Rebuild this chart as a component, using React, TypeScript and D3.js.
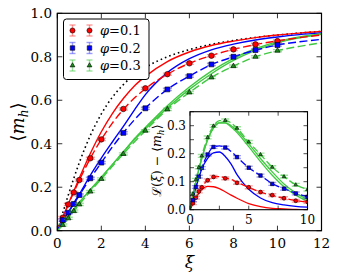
import * as d3 from 'd3'

// curve sample points (xi)
const xiGrid = [0, 0.25, 0.5, 0.75, 1, 1.5, 2, 2.5, 3, 3.5, 4, 5, 6, 7, 8, 9, 10, 11, 12]
const langevin = [0, 0.083, 0.164, 0.241, 0.313, 0.438, 0.537, 0.614, 0.672, 0.718, 0.751, 0.8, 0.833, 0.857, 0.875, 0.889, 0.9, 0.909, 0.917]
const redSolid = [0, 0.062, 0.123, 0.183, 0.242, 0.355, 0.455, 0.539, 0.608, 0.666, 0.71, 0.778, 0.822, 0.852, 0.872, 0.888, 0.9, 0.909, 0.916]
const blueSolid = [0, 0.043, 0.084, 0.128, 0.168, 0.255, 0.334, 0.408, 0.48, 0.555, 0.626, 0.727, 0.791, 0.832, 0.858, 0.877, 0.891, 0.902, 0.91]
const greenSolidA = [0, 0.031, 0.064, 0.098, 0.13, 0.188, 0.245, 0.304, 0.362, 0.418, 0.468, 0.565, 0.65, 0.722, 0.783, 0.829, 0.864, 0.887, 0.903]
const greenSolidB = [0, 0.031, 0.064, 0.098, 0.13, 0.188, 0.245, 0.304, 0.362, 0.423, 0.475, 0.575, 0.661, 0.734, 0.793, 0.837, 0.87, 0.891, 0.906]
const redDashed = [0, 0.06, 0.121, 0.177, 0.232, 0.333, 0.42, 0.495, 0.558, 0.61, 0.653, 0.72, 0.77, 0.806, 0.834, 0.856, 0.873, 0.888, 0.9]
const blueDashed = [0, 0.048, 0.084, 0.123, 0.163, 0.241, 0.313, 0.385, 0.45, 0.51, 0.563, 0.65, 0.711, 0.764, 0.8, 0.83, 0.854, 0.869, 0.88]
const greenDashed = [0, 0.026, 0.057, 0.09, 0.121, 0.18, 0.238, 0.296, 0.353, 0.408, 0.46, 0.558, 0.636, 0.705, 0.757, 0.8, 0.828, 0.848, 0.864]

// inset: L(xi) - <m_h>
const insetGrid = [0, 0.25, 0.5, 0.75, 1, 1.5, 2, 2.5, 3, 3.5, 4, 5, 6, 7, 8, 9, 10]
const insetRedSolid = [0, 0.021, 0.041, 0.058, 0.071, 0.083, 0.082, 0.075, 0.064, 0.052, 0.041, 0.022, 0.011, 0.005, 0.003, 0.001, 0]
const insetBlueSolid = [0, 0.04, 0.078, 0.113, 0.145, 0.183, 0.203, 0.206, 0.19, 0.163, 0.125, 0.073, 0.042, 0.025, 0.017, 0.012, 0.009]
const insetGreenSolidA = [0, 0.052, 0.1, 0.143, 0.183, 0.25, 0.292, 0.31, 0.31, 0.3, 0.283, 0.235, 0.183, 0.135, 0.092, 0.06, 0.036]
const insetGreenSolidB = [0, 0.052, 0.1, 0.143, 0.183, 0.25, 0.292, 0.31, 0.31, 0.295, 0.276, 0.225, 0.172, 0.123, 0.082, 0.052, 0.03]
const insetRedDashed = [0, 0.023, 0.043, 0.064, 0.081, 0.105, 0.117, 0.118, 0.114, 0.108, 0.098, 0.08, 0.063, 0.051, 0.041, 0.033, 0.027]
const insetBlueDashed = [0, 0.035, 0.08, 0.118, 0.15, 0.197, 0.224, 0.228, 0.222, 0.208, 0.188, 0.15, 0.122, 0.093, 0.075, 0.059, 0.046]
const insetGreenDashed = [0, 0.057, 0.107, 0.151, 0.192, 0.258, 0.299, 0.318, 0.319, 0.31, 0.291, 0.242, 0.197, 0.152, 0.118, 0.089, 0.072]

// simulation points
const xiPoints = [0.25, 0.5, 0.75, 1, 1.5, 2, 3, 4, 5, 6, 7, 8, 9, 10]
const redPoints = [0.06, 0.121, 0.176, 0.233, 0.333, 0.42, 0.56, 0.655, 0.72, 0.77, 0.805, 0.834, 0.857, 0.872]
const bluePoints = [0.049, 0.083, 0.123, 0.164, 0.241, 0.313, 0.45, 0.563, 0.65, 0.711, 0.765, 0.8, 0.831, 0.854]
const greenPoints = [0.026, 0.057, 0.09, 0.121, 0.18, 0.238, 0.353, 0.46, 0.558, 0.636, 0.705, 0.757, 0.8, 0.828]
const insetRedPoints = [0.023, 0.043, 0.065, 0.08, 0.105, 0.117, 0.112, 0.096, 0.08, 0.063, 0.052, 0.041, 0.032, 0.028]
const insetBluePoints = [0.034, 0.081, 0.118, 0.149, 0.197, 0.224, 0.222, 0.188, 0.15, 0.122, 0.092, 0.075, 0.058, 0.046]
const insetGreenPoints = [0.057, 0.107, 0.151, 0.192, 0.258, 0.299, 0.319, 0.291, 0.242, 0.197, 0.152, 0.118, 0.089, 0.072]
const yErr = 0.005

const phiLabels = ['0.1', '0.2', '0.3']
const xTicks = [0, 2, 4, 6, 8, 10, 12]
const yTicks = [0, 0.2, 0.4, 0.6, 0.8, 1.0]
const insetXTicks = [0, 2.5, 5, 7.5, 10]
const insetXLabels = [0, 5, 10]
const insetYTicks = [0, 0.05, 0.1, 0.15, 0.2, 0.25, 0.3, 0.35]
const insetYLabels = [0, 0.1, 0.2, 0.3]

const RED = '#ff0000'
const BLUE = '#0000ff'
const GREEN = '#40c840'
const colors = [RED, BLUE, GREEN]
const markerFill = ['#ff0000', '#0000ff', '#1a8c1a']
const barColors = ['rgba(255,60,60,0.5)', 'rgba(60,60,255,0.5)', 'rgba(60,200,60,0.5)']
const shapes = [d3.symbolCircle, d3.symbolSquare, d3.symbolTriangle]
const FONT = "'DejaVu Serif', 'Liberation Serif', serif"

function Marker({ x, y, i, size }) {
  const d = d3.symbol().type(shapes[i]).size(i === 2 ? size * 0.5 : size)()
  return <path d={d} transform={`translate(${x},${y})`} fill={markerFill[i]} stroke="#000" strokeWidth={0.6} />
}

function ErrBar({ x, y0, y1, i, cap }) {
  return (
    <g stroke={barColors[i]} strokeWidth={1.4} fill="none">
      <line x1={x} x2={x} y1={y0} y2={y1} />
      <line x1={x - cap} x2={x + cap} y1={y0} y2={y0} />
      <line x1={x - cap} x2={x + cap} y1={y1} y2={y1} />
    </g>
  )
}

export default function App() {
  const x = d3.scaleLinear().domain([0, 12]).range([57.3, 321.5])
  const y = d3.scaleLinear().domain([0, 1]).range([230.7, 13.3])
  const ix = d3.scaleLinear().domain([0, 10]).range([190, 307.5])
  const iy = d3.scaleLinear().domain([0, 0.35]).range([209.7, 111.7])

  const mainLine = (vals) => d3.line().curve(d3.curveMonotoneX).x((d, k) => x(xiGrid[k])).y(d => y(d))(vals)
  const insetLine = (vals) => d3.line().curve(d3.curveMonotoneX).x((d, k) => ix(insetGrid[k])).y(d => iy(d))(vals)

  const mainSolids = [[redSolid, 0], [blueSolid, 1], [greenSolidA, 2], [greenSolidB, 2]]
  const mainDashed = [[redDashed, 0], [blueDashed, 1], [greenDashed, 2]]
  const insetSolids = [[insetRedSolid, 0], [insetBlueSolid, 1], [insetGreenSolidA, 2], [insetGreenSolidB, 2]]
  const insetDashedL = [[insetRedDashed, 0], [insetBlueDashed, 1], [insetGreenDashed, 2]]
  const mainPts = [redPoints, bluePoints, greenPoints]
  const insetPts = [insetRedPoints, insetBluePoints, insetGreenPoints]

  const [x0, x1] = x.range()
  const [yb, yt] = y.range()
  const [ix0, ix1] = ix.range()
  const [iyb, iyt] = iy.range()

  return (
    <svg width={339} height={276} style={{ position: 'absolute', left: 0, top: 0, background: '#fff', fontFamily: FONT }}>
      <defs>
        <clipPath id="mainClip"><rect x={x0} y={yt} width={x1 - x0} height={yb - yt} /></clipPath>
        <clipPath id="insetClip"><rect x={ix0} y={iyt} width={ix1 - ix0} height={iyb - iyt} /></clipPath>
      </defs>

      {/* main panel */}
      <g clipPath="url(#mainClip)">
        <path d={mainLine(langevin)} fill="none" stroke="#000" strokeWidth={1.6} strokeDasharray="1.6,3" />
        {mainSolids.map(([vals, i], k) => (
          <path key={'ms' + k} d={mainLine(vals)} fill="none" stroke={colors[i]} strokeWidth={1.4} />
        ))}
        {mainDashed.map(([vals, i], k) => (
          <path key={'md' + k} d={mainLine(vals)} fill="none" stroke={colors[i]} strokeWidth={1.4} strokeDasharray="8,3.5" />
        ))}
        {mainPts.map((vals, i) => vals.map((v, k) => (
          <g key={'mp' + i + '-' + k}>
            <ErrBar x={x(xiPoints[k])} y0={y(v - yErr)} y1={y(v + yErr)} i={i} cap={4.5} />
            <Marker x={x(xiPoints[k])} y={y(v)} i={i} size={24} />
          </g>
        )))}
      </g>
      <rect x={x0} y={yt} width={x1 - x0} height={yb - yt} fill="none" stroke="#000" strokeWidth={1.2} />
      {xTicks.map(t => (
        <g key={'xt' + t}>
          <line x1={x(t)} x2={x(t)} y1={yb} y2={yb - 5} stroke="#000" strokeWidth={0.8} />
          <line x1={x(t)} x2={x(t)} y1={yt} y2={yt + 5} stroke="#000" strokeWidth={0.8} />
          <text x={x(t)} y={248} textAnchor="middle" fontSize={13.5}>{t}</text>
        </g>
      ))}
      {yTicks.map(t => (
        <g key={'yt' + t}>
          <line x1={x0} x2={x0 + 5} y1={y(t)} y2={y(t)} stroke="#000" strokeWidth={0.8} />
          <line x1={x1} x2={x1 - 5} y1={y(t)} y2={y(t)} stroke="#000" strokeWidth={0.8} />
          <text x={52} y={y(t)} dy="0.36em" textAnchor="end" fontSize={13.5}>{t.toFixed(1)}</text>
        </g>
      ))}
      <text x={(x0 + x1) / 2} y={268} textAnchor="middle" fontSize={17} fontStyle="italic">ξ</text>
      <text transform={`translate(24,${(yb + yt) / 2}) rotate(-90)`} textAnchor="middle" fontSize={18}>
        ⟨<tspan fontStyle="italic">m</tspan><tspan fontStyle="italic" fontSize={12} dy={4}>h</tspan><tspan dy={-4}>⟩</tspan>
      </text>

      {/* legend */}
      <rect x={63.5} y={19} width={85.5} height={60.5} rx={3} fill="#fff" stroke="#000" strokeWidth={1} />
      {phiLabels.map((lab, i) => {
        const cy = 30.5 + i * 17.5
        return (
          <g key={'lg' + i}>
            {[72.5, 89.5].map(mx => (
              <g key={mx}>
                <ErrBar x={mx} y0={cy - 5.5} y1={cy + 5.5} i={i} cap={3} />
                <Marker x={mx} y={cy} i={i} size={20} />
              </g>
            ))}
            <text x={100} y={cy + 4.5} fontSize={13}>
              <tspan fontStyle="italic">φ</tspan>=0{lab.slice(1)}
            </text>
          </g>
        )
      })}

      {/* inset */}
      <rect x={ix0} y={iyt} width={ix1 - ix0} height={iyb - iyt} fill="#fff" />
      <g clipPath="url(#insetClip)">
        {insetSolids.map(([vals, i], k) => (
          <path key={'is' + k} d={insetLine(vals)} fill="none" stroke={colors[i]} strokeWidth={1.3} />
        ))}
        {insetDashedL.map(([vals, i], k) => (
          <path key={'id' + k} d={insetLine(vals)} fill="none" stroke={colors[i]} strokeWidth={1.3} strokeDasharray="7,3" />
        ))}
        {insetPts.map((vals, i) => vals.map((v, k) => (
          <g key={'ip' + i + '-' + k}>
            <ErrBar x={ix(xiPoints[k])} y0={iy(v - yErr)} y1={iy(v + yErr)} i={i} cap={4} />
            <Marker x={ix(xiPoints[k])} y={iy(v)} i={i} size={12} />
          </g>
        )))}
      </g>
      <rect x={ix0} y={iyt} width={ix1 - ix0} height={iyb - iyt} fill="none" stroke="#000" strokeWidth={1.1} />
      {insetXTicks.map(t => (
        <g key={'ixt' + t}>
          <line x1={ix(t)} x2={ix(t)} y1={iyb} y2={iyb - 4} stroke="#000" strokeWidth={0.7} />
          <line x1={ix(t)} x2={ix(t)} y1={iyt} y2={iyt + 4} stroke="#000" strokeWidth={0.7} />
        </g>
      ))}
      {insetXLabels.map(t => (
        <text key={'ixl' + t} x={ix(t)} y={223.5} textAnchor="middle" fontSize={12}>{t}</text>
      ))}
      {insetYTicks.map(t => (
        <g key={'iyt' + t}>
          <line x1={ix0} x2={ix0 + 4} y1={iy(t)} y2={iy(t)} stroke="#000" strokeWidth={0.7} />
          <line x1={ix1} x2={ix1 - 4} y1={iy(t)} y2={iy(t)} stroke="#000" strokeWidth={0.7} />
        </g>
      ))}
      {insetYLabels.map(t => (
        <text key={'iyl' + t} x={186} y={iy(t)} dy="0.36em" textAnchor="end" fontSize={12}>{t.toFixed(1)}</text>
      ))}
      <text transform={`translate(161,${(iyb + iyt) / 2}) rotate(-90)`} textAnchor="middle" fontSize={12.5}>
        ℒ(<tspan fontStyle="italic">ξ</tspan>) − ⟨<tspan fontStyle="italic">m</tspan><tspan fontStyle="italic" fontSize={9} dy={3}>h</tspan><tspan dy={-3}>⟩</tspan>
      </text>
    </svg>
  )
}
